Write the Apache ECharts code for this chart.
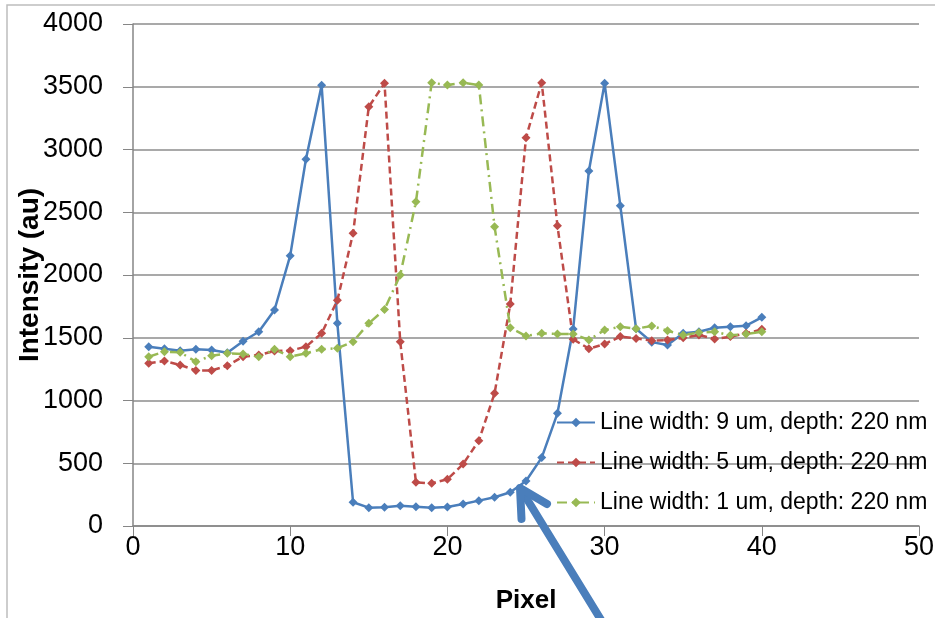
<!DOCTYPE html>
<html>
<head>
<meta charset="utf-8">
<script src="https://cdn.jsdelivr.net/npm/echarts@6/dist/echarts.min.js"></script>
<style>
  html, body { margin: 0; padding: 0; background: #fff; }
  #chart { width: 935px; height: 618px; }
</style>
</head>
<body>
<div id="chart"></div>
<script>
// pixel index 1..40
const pixels = [1,2,3,4,5,6,7,8,9,10,11,12,13,14,15,16,17,18,19,20,
  21,22,23,24,25,26,27,28,29,30,31,32,33,34,35,36,37,38,39,40]

const width9 = [1429,1413,1397,1408,1402,1381,1472,1548,1721,2154,
  2922,3511,1615,189,146,149,162,154,146,151,
  175,202,229,269,359,545,898,1570,2829,3527,
  2552,1572,1465,1442,1535,1548,1580,1588,1596,1663]

const width5 = [1296,1315,1283,1240,1240,1277,1349,1363,1394,1397,
  1429,1535,1798,2332,3341,3527,1469,348,340,372,
  494,680,1057,1768,3094,3532,2393,1488,1413,1450,
  1509,1495,1477,1482,1500,1522,1490,1509,1535,1567]

const width1 = [1349,1389,1384,1309,1357,1376,1371,1349,1408,1349,
  1376,1408,1416,1469,1615,1726,2000,2584,3532,3514,
  3532,3514,2385,1580,1514,1535,1530,1530,1482,1562,
  1588,1572,1594,1556,1522,1541,1548,1519,1530,1548]

const seriesNames = [
  "Line width: 9 um, depth: 220 nm",
  "Line width: 5 um, depth: 220 nm",
  "Line width: 1 um, depth: 220 nm",
]

const font = "'Liberation Sans', Arial, sans-serif"

function pairs(vals) {
  return pixels.map((p, i) => [p, vals[i]])
}

let myChart = echarts.init(document.getElementById("chart"))

const blue = "#4a7ebb"

myChart.setOption({
  animation: false,
  textStyle: { fontFamily: font },
  grid: {
    left: 133,
    right: 16,
    top: 24,
    bottom: 92,
    outerBoundsMode: "none", // keep the plot box where it is
  },
  legend: {
    orient: "vertical",
    left: 551,
    top: 406,
    itemWidth: 38,
    itemHeight: 12,
    itemGap: 17,
    textStyle: { fontSize: 23, color: "#000", fontFamily: font },
    data: seriesNames,
  },
  xAxis: {
    type: "value",
    min: 0,
    max: 50,
    interval: 10,
    name: "Pixel",
    nameLocation: "middle",
    nameGap: 62,
    nameMoveOverlap: false,
    nameTextStyle: { fontSize: 26, fontWeight: "bold", color: "#000" },
    axisLine: { lineStyle: { color: "#868686", width: 1.5 } },
    axisTick: { show: true, length: 10, lineStyle: { color: "#868686" } },
    axisLabel: { fontSize: 27, color: "#000", margin: 8 },
    splitLine: { show: false },
  },
  yAxis: {
    type: "value",
    min: 0,
    max: 4000,
    interval: 500,
    name: "Intensity (au)",
    nameLocation: "middle",
    nameGap: 89,
    nameMoveOverlap: false, // the original label touches the tick labels
    nameTextStyle: { fontSize: 28, fontWeight: "bold", color: "#000" },
    axisLine: { show: true, lineStyle: { color: "#868686", width: 1.5 } },
    axisTick: { show: true, length: 10, lineStyle: { color: "#868686" } },
    axisLabel: { fontSize: 27, color: "#000", margin: 30, formatter: (v) => String(v) },
    splitLine: { lineStyle: { color: "#8c8c8c", width: 1.5 } },
  },
  series: [
    {
      name: seriesNames[0],
      type: "line",
      data: pairs(width9),
      symbol: "diamond",
      symbolSize: 9,
      color: blue,
      lineStyle: { width: 2.5, color: blue },
    },
    {
      name: seriesNames[1],
      type: "line",
      data: pairs(width5),
      symbol: "diamond",
      symbolSize: 9,
      color: "#be4b48",
      lineStyle: { width: 2.5, type: [7, 4], color: "#be4b48" },
    },
    {
      name: seriesNames[2],
      type: "line",
      data: pairs(width1),
      symbol: "diamond",
      symbolSize: 9,
      color: "#98b954",
      lineStyle: { width: 2.5, type: [10, 5, 2, 5], color: "#98b954" },
    },
  ],
  graphic: [
    // outer frame (only left/top edges visible)
    {
      type: "rect",
      shape: { x: 7, y: 5, width: 1200, height: 1200 },
      style: { fill: "none", stroke: "#bdbdbd", lineWidth: 1.5 },
      silent: true,
    },
    // annotation arrow
    {
      type: "polyline",
      shape: { points: [[522, 491], [606, 628]] },
      style: { stroke: blue, lineWidth: 8, lineCap: "round" },
      z: 100,
      silent: true,
    },
    {
      type: "polyline",
      shape: { points: [[521.5, 519], [520, 488], [547, 504]] },
      style: { stroke: blue, lineWidth: 8, lineCap: "round", lineJoin: "round", fill: "none" },
      z: 100,
      silent: true,
    },
  ],
})
</script>
</body>
</html>
